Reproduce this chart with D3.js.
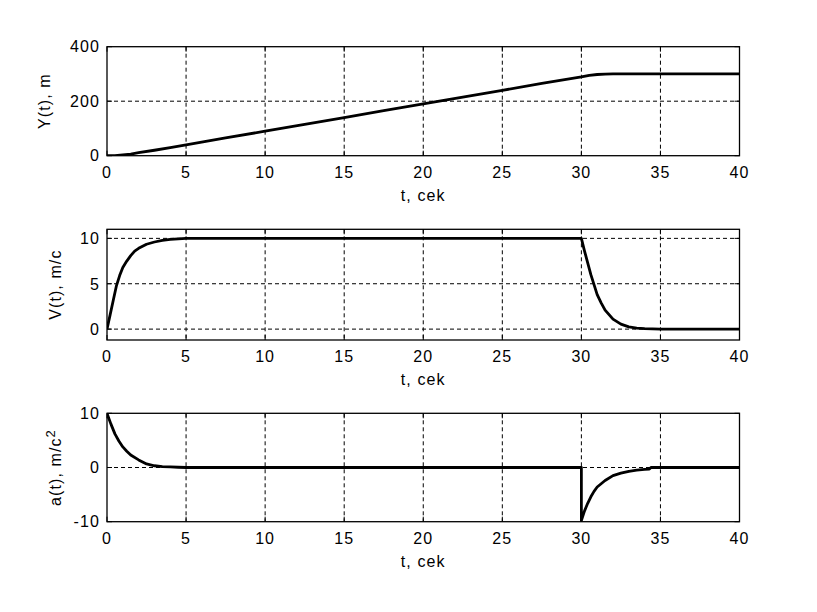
<!DOCTYPE html>
<html>
<head>
<meta charset="utf-8">
<script src="https://cdn.jsdelivr.net/npm/d3@7"></script>
<style>
  html, body { margin: 0; padding: 0; background: #fff; }
  text { font-family: "Liberation Sans", Arial, sans-serif; font-size: 16px; letter-spacing: 1.1px; fill: #000; }
</style>
</head>
<body>
<svg id="chart" width="817" height="612"></svg>
<script>
// ---- data ----
const xTicks = [0, 5, 10, 15, 20, 25, 30, 35, 40];

const tY = [0, 0.5, 1, 1.5, 2, 3, 4, 5, 7.5, 10, 12.5, 15, 17.5, 20, 22.5, 25, 27.5, 30, 30.5, 31, 31.5, 32, 33, 35, 40];
const yVals = [0, 0, 3, 6, 11, 20, 30, 40, 65, 90, 115, 140, 165, 190, 215, 240, 265, 289, 295, 298, 299.5, 300, 300, 300, 300];
const yTicks = [0, 200, 400];

const tV = [0, 0.2, 0.4, 0.6, 0.8, 1, 1.25, 1.5, 1.75, 2, 2.5, 3, 3.5, 4, 4.5, 5, 30, 30.2, 30.4, 30.6, 30.8, 31, 31.25, 31.5, 32, 32.5, 33, 33.5, 34, 35, 40];
const vVals = [0, 1.6, 3.2, 4.8, 5.9, 6.8, 7.5, 8.1, 8.6, 8.9, 9.35, 9.6, 9.78, 9.88, 9.95, 10, 10, 8.6, 7.3, 6.0, 4.9, 3.8, 2.9, 2.1, 1.1, 0.55, 0.25, 0.12, 0.05, 0, 0];
const vTicks = [0, 5, 10];

const tA = [0, 0.25, 0.5, 0.75, 1, 1.25, 1.5, 2, 2.5, 3, 3.5, 4, 4.5, 5, 30, 30, 30.2, 30.4, 30.6, 30.8, 31, 31.5, 32, 32.5, 33, 33.5, 34, 34.3, 34.4, 40];
const aVals = [10, 8.0, 6.2, 4.9, 3.8, 3.0, 2.3, 1.4, 0.65, 0.32, 0.18, 0.1, 0.05, 0, 0, -9.8, -8, -6.6, -5.4, -4.4, -3.6, -2.4, -1.5, -1.05, -0.7, -0.5, -0.35, -0.3, 0, 0];
const aTicks = [-10, 0, 10];

const xLabel = "t, cek";

// ---- layout ----
const svg = d3.select("#chart");
const x = d3.scaleLinear().domain([0, 40]).range([107, 739.5]);

const panels = [
  { t: tY, v: yVals, ticks: yTicks, domain: [0, 400], top: 46.7, bottom: 155.7, label: "Y(t), m", labelX: 50 },
  { t: tV, v: vVals, ticks: vTicks, domain: [-1.2, 11], top: 229.3, bottom: 340, label: "V(t), m/c", labelX: 61 },
  { t: tA, v: aVals, ticks: aTicks, domain: [-10, 10], top: 413.3, bottom: 521.7, label: "a(t), m/c", sup: "2", labelX: 61 }
];

panels.forEach((p, i) => {
  const y = d3.scaleLinear().domain(p.domain).range([p.bottom, p.top]);
  const g = svg.append("g");
  const x0 = x.range()[0], x1 = x.range()[1];

  // clip
  const cid = "clip" + i;
  svg.append("clipPath").attr("id", cid).append("rect")
    .attr("x", x0).attr("y", p.top).attr("width", x1 - x0).attr("height", p.bottom - p.top);

  // grid
  g.selectAll(".gx").data(xTicks.slice(1, -1)).join("line")
    .attr("x1", d => x(d)).attr("x2", d => x(d))
    .attr("y1", p.top).attr("y2", p.bottom)
    .attr("stroke", "#000").attr("stroke-width", 1).attr("stroke-dasharray", "4,3");
  g.selectAll(".gy").data(p.ticks.filter(d => y(d) > p.top + 1 && y(d) < p.bottom - 1)).join("line")
    .attr("x1", x0).attr("x2", x1)
    .attr("y1", d => y(d)).attr("y2", d => y(d))
    .attr("stroke", "#000").attr("stroke-width", 1).attr("stroke-dasharray", "4,3");

  // ticks (inward, all sides)
  const tl = 5;
  xTicks.forEach(d => {
    g.append("line").attr("x1", x(d)).attr("x2", x(d)).attr("y1", p.bottom).attr("y2", p.bottom - tl).attr("stroke", "#000");
    g.append("line").attr("x1", x(d)).attr("x2", x(d)).attr("y1", p.top).attr("y2", p.top + tl).attr("stroke", "#000");
  });
  p.ticks.forEach(d => {
    g.append("line").attr("x1", x0).attr("x2", x0 + tl).attr("y1", y(d)).attr("y2", y(d)).attr("stroke", "#000");
    g.append("line").attr("x1", x1).attr("x2", x1 - tl).attr("y1", y(d)).attr("y2", y(d)).attr("stroke", "#000");
  });

  // data line
  const pts = p.t.map((t, k) => [t, p.v[k]]);
  g.append("path").datum(pts)
    .attr("clip-path", `url(#${cid})`)
    .attr("d", d3.line().x(d => x(d[0])).y(d => y(d[1])))
    .attr("fill", "none").attr("stroke", "#000").attr("stroke-width", 2.8)
    .attr("stroke-linejoin", "round");

  // box
  g.append("rect").attr("x", x0).attr("y", p.top).attr("width", x1 - x0).attr("height", p.bottom - p.top)
    .attr("fill", "none").attr("stroke", "#000").attr("stroke-width", 1.3);

  // tick labels
  g.selectAll(".xl").data(xTicks).join("text")
    .attr("x", d => x(d)).attr("y", p.bottom + 22)
    .attr("text-anchor", "middle").text(d => d);
  g.selectAll(".yl").data(p.ticks).join("text")
    .attr("x", x0 - 7).attr("y", d => y(d)).attr("dy", "0.36em")
    .attr("text-anchor", "end").text(d => d);

  // x label
  g.append("text").attr("x", (x0 + x1) / 2).attr("y", p.bottom + 45)
    .attr("text-anchor", "middle").text(xLabel);

  // y label
  const yl = g.append("text")
    .attr("transform", `translate(${p.labelX},${(p.top + p.bottom) / 2}) rotate(-90)`)
    .attr("text-anchor", "middle");
  yl.append("tspan").text(p.label);
  if (p.sup) {
    yl.append("tspan").attr("dy", "-0.5em").attr("font-size", "13px").text(p.sup);
  }
});
</script>
</body>
</html>
